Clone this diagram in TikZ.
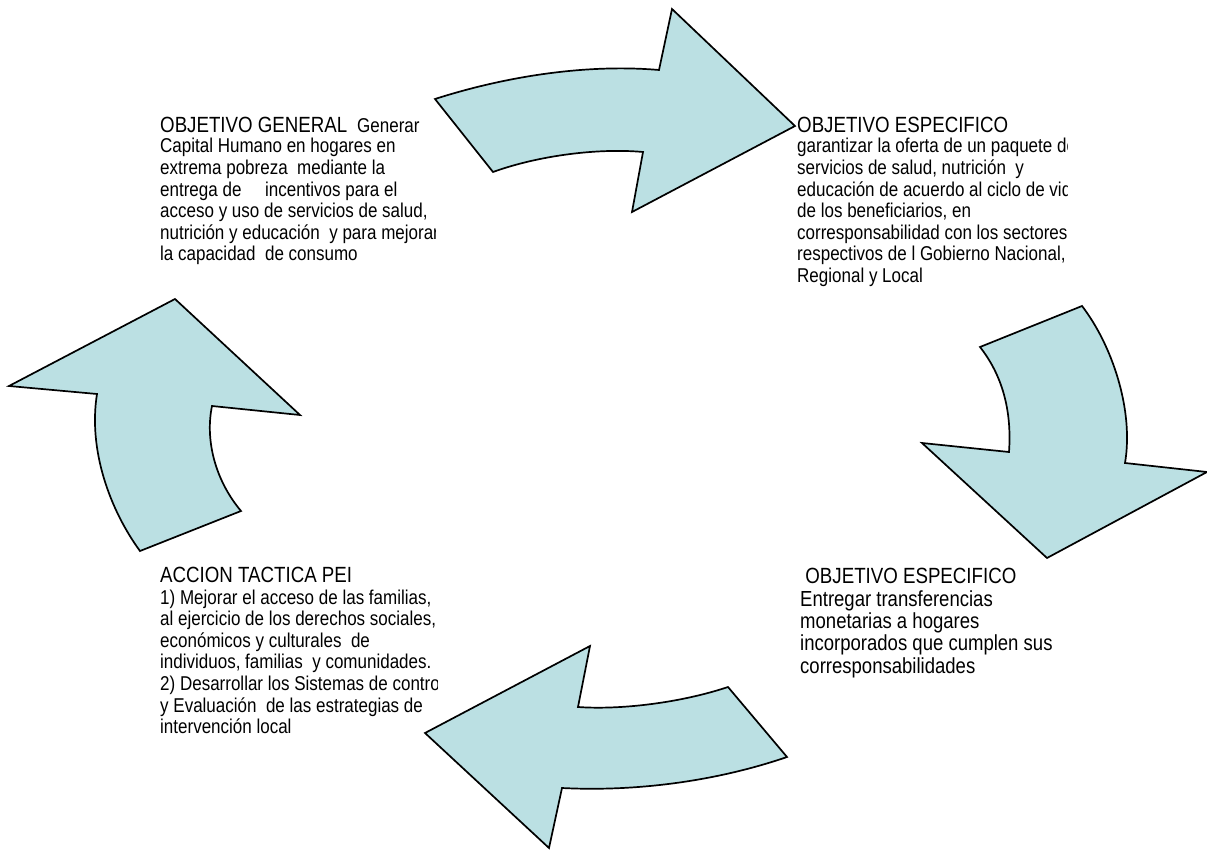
\documentclass[tikz,border=0pt]{standalone}
\usepackage{fontspec}
\setmainfont{Liberation Sans}[FakeStretch=0.85]
\definecolor{arrowfill}{RGB}{187,224,227}
\newcommand{\txtlines}[1]{\begin{tabular}[t]{@{}l@{}}#1\end{tabular}}
\begin{document}
\begin{tikzpicture}[x=1pt,y=-1pt,
  cyclearrow/.style={draw=black,line width=1.7pt,fill=arrowfill,line join=miter},
  headtxt/.style={anchor=base west,inner sep=0pt,font=\fontsize{22}{22}\selectfont},
  bodytxt/.style={anchor=base west,inner sep=0pt,font=\fontsize{20}{21.6}\selectfont},
  bigbody/.style={anchor=base west,inner sep=0pt,font=\fontsize{21.8}{22}\selectfont}]
\useasboundingbox (0,0) rectangle (1207,850);
\fill[white] (0,0) rectangle (1207,850);

% top arrow
\draw[cyclearrow] (435,99) .. controls (510,75) and (590,64) .. (659,70)
  -- (672,9) -- (795,126) -- (632,212) -- (643,152)
  .. controls (600,148) and (540,155) .. (493,172) -- cycle;
% right arrow
\draw[cyclearrow] (980,347) -- (1082,306)
  .. controls (1112,345) and (1134,410) .. (1125,463)
  -- (1207,472) -- (1047,558) -- (922,443) -- (1009,452)
  .. controls (1012,410) and (1002,375) .. (980,347) -- cycle;
% bottom arrow
\draw[cyclearrow] (728,687) -- (787,757)
  .. controls (720,780) and (640,792) .. (562,788)
  -- (549,848) -- (425,733) -- (590,646) -- (578,707)
  .. controls (620,710) and (680,703) .. (728,687) -- cycle;
% left arrow
\draw[cyclearrow] (175,299) -- (300,415) -- (212,406)
  .. controls (205,440) and (215,480) .. (241,511)
  -- (140,551)
  .. controls (110,510) and (88,450) .. (97,394)
  -- (9,386) -- cycle;

% box 1
\begin{scope}
\clip (150,100) rectangle (435,290);
\node[headtxt] (g1) at (160,133) {OBJETIVO GENERAL\hspace{10pt}{\fontsize{20}{21.6}\selectfont Generar}};
\node[bodytxt] (g2) at (160,153) {\txtlines{Capital Humano en hogares en\\
extrema pobreza\ \ mediante la\\
entrega de\ \ \ \ \ incentivos para el\\
acceso y uso de servicios de salud,\\
nutrición y educación\ \ y para mejorar\\
la capacidad\ \ de consumo}};
\end{scope}

% box 2
\begin{scope}
\clip (796,100) rectangle (1067,310);
\node[headtxt] (e1) at (797,133) {OBJETIVO ESPECIFICO};
\node[bodytxt] (e2) at (797,153) {\txtlines{garantizar la oferta de un paquete de\\
servicios de salud, nutrición\ \ y\\
educación de acuerdo al ciclo de vida\\
de los beneficiarios, en\\
corresponsabilidad con los sectores\\
respectivos de l Gobierno Nacional,\\
Regional y Local}};
\end{scope}

% box 3
\begin{scope}
\clip (150,550) rectangle (437,760);
\node[headtxt] (a1) at (160,582) {ACCION TACTICA PEI};
\node[bodytxt] (a2) at (160,604) {\txtlines{1) Mejorar el acceso de las familias,\\
al ejercicio de los derechos sociales,\\
económicos y culturales\ \ de\\
individuos, familias\ \ y comunidades.\\
2) Desarrollar los Sistemas de control\\
y Evaluación\ \ de las estrategias de\\
intervención local}};
\end{scope}

% box 4
\node[headtxt] (t1) at (800,583) {\ OBJETIVO ESPECIFICO};
\node[bigbody] (t2) at (800,606) {\txtlines{Entregar transferencias\\
monetarias a hogares\\
incorporados que cumplen sus\\
corresponsabilidades}};
\end{tikzpicture}
\end{document}
